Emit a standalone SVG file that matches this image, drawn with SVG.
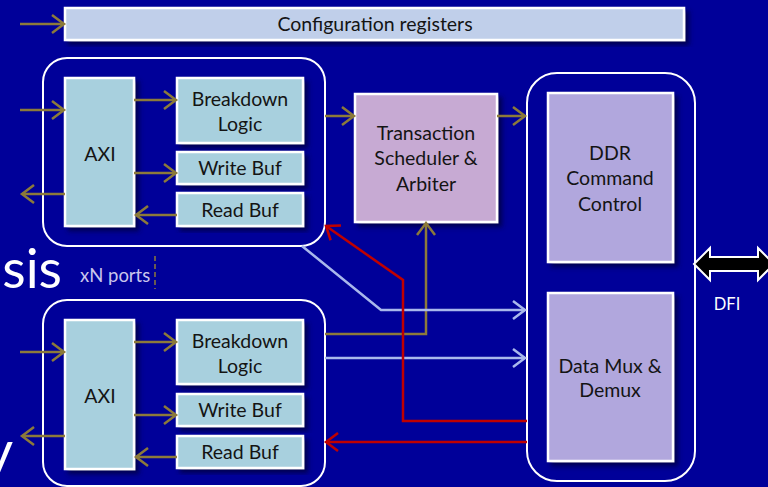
<svg xmlns="http://www.w3.org/2000/svg" width="768" height="487" viewBox="0 0 768 487">
<defs>
<filter id="sh" x="-10%" y="-10%" width="130%" height="130%">
<feDropShadow dx="4" dy="4" stdDeviation="2.5" flood-color="#000030" flood-opacity="0.7"/>
</filter>
<marker id="ao" viewBox="-15 -11 18 22" refX="0" refY="0" markerWidth="18" markerHeight="22" markerUnits="userSpaceOnUse" orient="auto">
<path d="M-12,-9 L0,0 L-12,9" fill="none" stroke="#8C7A3A" stroke-width="2.5"/>
</marker>
<marker id="ar" viewBox="-15 -11 18 22" refX="0" refY="0" markerWidth="18" markerHeight="22" markerUnits="userSpaceOnUse" orient="auto">
<path d="M-12,-9 L0,0 L-12,9" fill="none" stroke="#C00000" stroke-width="2.5"/>
</marker>
<marker id="ab" viewBox="-15 -11 18 22" refX="0" refY="0" markerWidth="18" markerHeight="22" markerUnits="userSpaceOnUse" orient="auto">
<path d="M-12,-9 L0,0 L-12,9" fill="none" stroke="#A9B8EC" stroke-width="2.5"/>
</marker>
</defs>
<style>
.t{font-family:Lato,"Liberation Sans",sans-serif;font-size:19.5px;fill:#141414;text-anchor:middle}
.box{stroke:#FFFFFF;stroke-width:2.5;filter:url(#sh)}
.blue{fill:#A8D0DE}
.cfg{fill:#C0CFEA}
.ts{fill:#C7AAD3}
.ddr{fill:#B1A7DD}
.cont{fill:none;stroke:#FFFFFF;stroke-width:2}
.ol{fill:none;stroke:#8C7A3A;stroke-width:2.5;marker-end:url(#ao)}
.rd{fill:none;stroke:#C00000;stroke-width:2.5;marker-end:url(#ar)}
.lb{fill:none;stroke:#A9B8EC;stroke-width:2.5;marker-end:url(#ab)}
.w{font-family:Lato,"Liberation Sans",sans-serif;fill:#FFFFFF}
</style>
<rect x="0" y="0" width="768" height="487" fill="#000099"/>

<text class="w" x="62" y="288" font-size="54" text-anchor="end">sis</text>
<text class="w" x="13" y="471" font-size="56" text-anchor="end">y</text>
<text x="80" y="282" font-family="Lato,'Liberation Sans',sans-serif" font-size="18.5" fill="#C9C6EC">xN ports</text>
<line x1="155" y1="256" x2="155" y2="289" stroke="#8C7A3A" stroke-width="1.5" stroke-dasharray="5 3"/>

<g id="config">
<rect class="box cfg" x="65" y="8" width="619" height="32"/>
<text class="t" x="375" y="31">Configuration registers</text>
</g>

<g id="port1">
<rect class="cont" x="43" y="58" width="282" height="188" rx="24"/>
<g id="axi1"><rect class="box blue" x="65" y="78" width="69" height="148"/><text class="t" x="100" y="161">AXI</text></g>
<g id="bd1"><rect class="box blue" x="177" y="78" width="126" height="65"/><text class="t" x="240" y="106">Breakdown</text><text class="t" x="240" y="131">Logic</text></g>
<g id="wb1"><rect class="box blue" x="177" y="152" width="126" height="32"/><text class="t" x="240" y="175">Write Buf</text></g>
<g id="rb1"><rect class="box blue" x="177" y="193" width="126" height="33"/><text class="t" x="240" y="217">Read Buf</text></g>
</g>

<g id="port2">
<rect class="cont" x="43" y="300" width="282" height="186" rx="24"/>
<g id="axi2"><rect class="box blue" x="65" y="320" width="69" height="149"/><text class="t" x="100" y="403">AXI</text></g>
<g id="bd2"><rect class="box blue" x="177" y="320" width="126" height="64"/><text class="t" x="240" y="348">Breakdown</text><text class="t" x="240" y="373">Logic</text></g>
<g id="wb2"><rect class="box blue" x="177" y="394" width="126" height="32"/><text class="t" x="240" y="417">Write Buf</text></g>
<g id="rb2"><rect class="box blue" x="177" y="436" width="126" height="32"/><text class="t" x="240" y="459">Read Buf</text></g>
</g>

<g id="scheduler">
<rect class="box ts" x="355" y="94" width="142" height="128"/>
<text class="t" x="426" y="140">Transaction</text>
<text class="t" x="426" y="165">Scheduler &amp;</text>
<text class="t" x="426" y="191">Arbiter</text>
</g>

<g id="ddr">
<rect class="cont" x="527" y="73" width="168" height="408" rx="30"/>
<g id="cmd"><rect class="box ddr" x="548" y="93" width="125" height="169"/>
<text class="t" x="610" y="160">DDR</text><text class="t" x="610" y="185">Command</text><text class="t" x="610" y="211">Control</text></g>
<g id="mux"><rect class="box ddr" x="548" y="293" width="125" height="168"/>
<text class="t" x="610" y="373">Data Mux &amp;</text><text class="t" x="610" y="397">Demux</text></g>
</g>

<g id="dfi">
<polygon points="694,264 710,248 710,257 758,257 758,248 774,264 758,280 758,271 710,271 710,280" fill="#000000" stroke="#FFFFFF" stroke-width="2"/>
<text class="w" x="727" y="310" font-size="16.5" text-anchor="middle">DFI</text>
</g>

<g id="connectors">
<line class="ol" x1="20" y1="24" x2="64" y2="24"/>
<line class="ol" x1="20" y1="110" x2="64" y2="110"/>
<line class="ol" x1="65" y1="194" x2="22" y2="194"/>
<line class="ol" x1="134" y1="100" x2="176" y2="100"/>
<line class="ol" x1="134" y1="173" x2="176" y2="173"/>
<line class="ol" x1="177" y1="215" x2="136" y2="215"/>
<line class="ol" x1="325" y1="116" x2="354" y2="116"/>
<line class="ol" x1="497" y1="116" x2="525" y2="116"/>

<line class="ol" x1="20" y1="352" x2="64" y2="352"/>
<line class="ol" x1="65" y1="436" x2="22" y2="436"/>
<line class="ol" x1="134" y1="342" x2="176" y2="342"/>
<line class="ol" x1="134" y1="415" x2="176" y2="415"/>
<line class="ol" x1="177" y1="457" x2="136" y2="457"/>

<polyline class="ol" points="325,334 426,334 426,223"/>
<polyline class="lb" points="302,246 381,310 525,310"/>
<line class="lb" x1="325" y1="358" x2="525" y2="358"/>
<polyline class="rd" points="527,421 403,421 403,280 326,226"/>
<line class="rd" x1="527" y1="442" x2="326" y2="442"/>
</g>
</svg>
